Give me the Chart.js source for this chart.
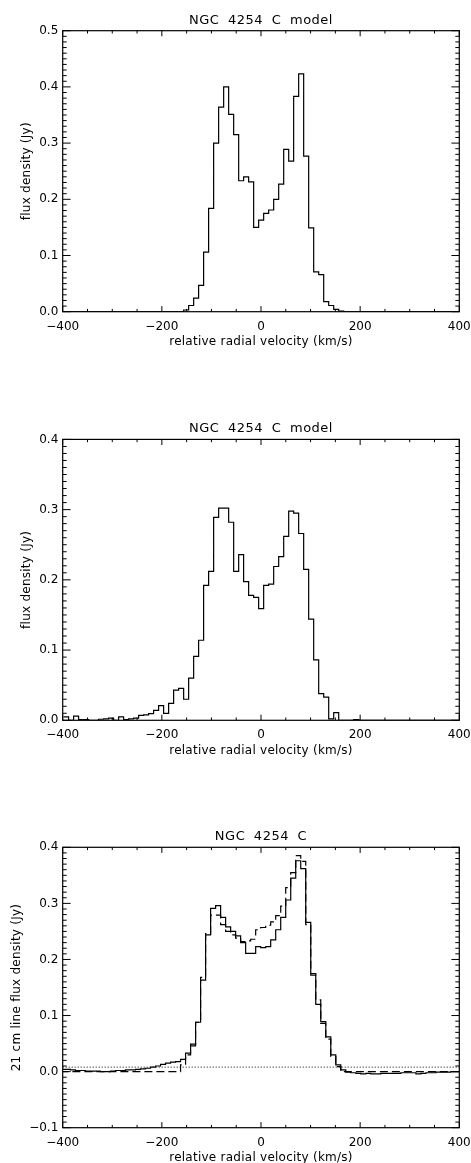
<!DOCTYPE html>
<html>
<head>
<meta charset="utf-8">
<script src="https://cdn.jsdelivr.net/npm/chart.js@4/dist/chart.umd.min.js"></script>
<style>
html,body{margin:0;padding:0;background:#fff;}
body{width:471px;height:1163px;position:relative;overflow:hidden;}
canvas{position:absolute;left:0;display:block;}
</style>
</head>
<body>
<canvas id="c1" width="471" height="352" style="top:0px"></canvas>
<canvas id="c2" width="471" height="360" style="top:400px"></canvas>
<canvas id="c3" width="471" height="363" style="top:800px"></canvas>
<script>
// ---------------- data ----------------
// bin centres (km/s) of the model spectra (panels 1 and 2)
const velModel = [
  -393.2,-383.1,-373.0,-362.9,-352.8,-342.7,-332.6,-322.6,-312.5,-302.4,
  -292.3,-282.2,-272.1,-262.0,-251.9,-241.8,-231.7,-221.7,-211.6,-201.5,
  -191.4,-181.3,-171.2,-161.1,-151.0,-140.9,-130.8,-120.8,-110.7,-100.6,
  -90.5,-80.4,-70.3,-60.2,-50.1,-40.0,-30.0,-19.9,-9.8,0.3,
  10.4,20.5,30.6,40.7,50.8,60.9,70.9,81.0,91.1,101.2,
  111.3,121.4,131.5,141.6,151.7,161.8,171.9,181.9,192.0,202.1,
  212.2,222.3,232.4,242.5,252.6,262.7,272.8,282.9,292.9,303.0,
  313.1,323.2,333.3,343.4,353.5,363.6,373.7,383.8,393.8
];
// panel 1: NGC 4254 C model (Jy)
const fluxModelA = [
  0,0,0,0,0,0,0,0,0,0,
  0,0,0,0,0,0,0,0,0,0,
  0,0,0,0,0.003,0.011,0.024,0.047,0.106,0.184,
  0.300,0.364,0.400,0.351,0.315,0.233,0.240,0.231,0.150,0.163,
  0.175,0.181,0.200,0.227,0.289,0.268,0.383,0.423,0.277,0.149,
  0.071,0.066,0.018,0.011,0.004,0.001,0,0,0,0,
  0,0,0,0,0,0,0,0,0,0,
  0,0,0,0,0,0,0,0,0
];
// panel 2: NGC 4254 C model (Jy)
const fluxModelB = [
  0.005,0.000,0.006,0.001,0.001,0.000,0.000,0.0015,0.002,0.003,
  0.000,0.005,0.001,0.002,0.003,0.007,0.0076,0.0095,0.014,0.021,
  0.010,0.024,0.043,0.0456,0.030,0.060,0.091,0.114,0.192,0.212,
  0.289,0.302,0.302,0.282,0.212,0.236,0.1975,0.178,0.175,0.159,
  0.192,0.194,0.219,0.233,0.262,0.298,0.295,0.266,0.215,0.144,
  0.086,0.038,0.033,0.002,0.011,0.000,0.000,0.000,0.001,0.000,
  0,0,0,0,0,0,0,0,0,0,
  0,0,0,0,0,0,0,0,0
];
// bin centres (km/s) of the observed spectrum (panel 3)
const velObs = [
  -399.6,-389.5,-379.4,-369.3,-359.2,-349.1,-339.0,-328.9,-318.8,-308.7,
  -298.6,-288.5,-278.4,-268.3,-258.2,-248.1,-238.0,-227.9,-217.8,-207.7,
  -197.6,-187.5,-177.4,-167.3,-157.2,-147.1,-137.0,-126.9,-116.8,-106.7,
  -96.6,-86.5,-76.4,-66.3,-56.2,-46.1,-36.0,-25.9,-15.8,-5.7,
  4.4,14.5,24.6,34.7,44.8,54.9,65.0,75.1,85.2,95.3,
  105.4,115.5,125.6,135.7,145.8,155.9,166.0,176.1,186.2,196.3,
  206.4,216.5,226.6,236.7,246.8,256.9,267.0,277.1,287.2,297.3,
  307.4,317.5,327.6,337.7,347.8,357.9,368.0,378.1,388.2,398.3
];
// panel 3 solid: observed 21 cm line flux density (Jy)
const fluxObs = [
  0.004,0.004,0.003,0.002,0.002,0.001,0.001,0.001,0.000,0.000,
  0.001,0.002,0.002,0.003,0.003,0.004,0.005,0.006,0.008,0.010,
  0.013,0.015,0.017,0.018,0.022,0.033,0.049,0.088,0.163,0.244,
  0.291,0.296,0.275,0.258,0.250,0.242,0.230,0.211,0.211,0.223,
  0.221,0.223,0.235,0.253,0.275,0.306,0.345,0.376,0.362,0.266,
  0.172,0.120,0.089,0.062,0.030,0.012,0.003,-0.001,-0.002,-0.003,
  -0.004,-0.003,-0.004,-0.004,-0.003,-0.003,-0.003,-0.003,-0.002,-0.002,
  -0.002,-0.004,-0.003,-0.002,-0.002,-0.001,-0.001,-0.001,0.000,0.000
];
// panel 3 dashed: model (Jy)
const fluxObsModel = [
  0,0,0,0,0,0,0,0,0,0,
  0,0,0,0,0,0,0,0,0,0,
  0,0,0,0,0.012,0.030,0.046,0.088,0.168,0.246,
  0.279,0.279,0.262,0.250,0.244,0.238,0.232,0.233,0.236,0.253,
  0.257,0.261,0.267,0.278,0.295,0.328,0.355,0.385,0.375,0.262,
  0.175,0.128,0.086,0.058,0.027,0.009,0,0,0,0,
  0,0,0,0,0,0,0,0,0,0,
  0,0,0,0,0,0,0,0,0,0
];
// panel 3 dotted level (Jy)
const noiseLevel = 0.008;

// ticks and texts
const xTickValues = [-400, -200, 0, 200, 400];
const yTicksA = [0, 0.1, 0.2, 0.3, 0.4, 0.5];
const yTicksB = [0, 0.1, 0.2, 0.3, 0.4];
const yTicksC = [-0.1, 0, 0.1, 0.2, 0.3, 0.4];
const xMinorStep = 50;
const yMinorStep = 0.01;
const panelTitles = ['NGC 4254 C model', 'NGC 4254 C model', 'NGC 4254 C'];
const xAxisTitle = 'relative radial velocity (km/s)';
const yAxisTitles = ['flux density (Jy)', 'flux density (Jy)', '21 cm line flux density (Jy)'];

// ---------------- helpers ----------------
const FONT = 'DejaVu Sans';
function histPoints(vel, flux) {
  const half = (vel[vel.length - 1] - vel[0]) / (vel.length - 1) / 2;
  const pts = vel.map((v, i) => ({x: v - half, y: flux[i]}));
  pts.push({x: vel[vel.length - 1] + half, y: flux[flux.length - 1]});
  return pts;
}
function minus(s) { return s.replace('-', '\u2212'); }
function fmtX(v) { return minus(String(Math.round(v))); }
function fmtY(v) { return Math.abs(v) < 1e-9 ? '0.0' : minus(v.toFixed(1)); }

const idlBox = {
  id: 'idlBox',
  afterDatasetsDraw(chart, _args, o) {
    const {ctx, chartArea: a} = chart;
    const xs = chart.scales.x, ys = chart.scales.y;
    ctx.save();
    ctx.strokeStyle = '#000';
    ctx.lineWidth = 1;
    ctx.beginPath();
    const nx = Math.round((xs.max - xs.min) / xMinorStep);
    for (let i = 0; i <= nx; i++) {
      const v = xs.min + i * xMinorStep;
      const px = xs.getPixelForValue(v);
      const major = xTickValues.some(m => Math.abs(m - v) < 1e-6);
      const len = major ? 5.6 : 2.8;
      ctx.moveTo(px, a.bottom); ctx.lineTo(px, a.bottom - len);
      ctx.moveTo(px, a.top); ctx.lineTo(px, a.top + len);
    }
    const ny = Math.round((ys.max - ys.min) / yMinorStep);
    for (let i = 0; i <= ny; i++) {
      const v = ys.min + i * yMinorStep;
      const py = ys.getPixelForValue(v);
      const major = o.yTicks.some(m => Math.abs(m - v) < 1e-6);
      const len = major ? 7.9 : 4;
      ctx.moveTo(a.left, py); ctx.lineTo(a.left + len, py);
      ctx.moveTo(a.right, py); ctx.lineTo(a.right - len, py);
    }
    ctx.stroke();
    ctx.lineWidth = 1.2;
    ctx.strokeRect(a.left, a.top, a.right - a.left, a.bottom - a.top);

    ctx.fillStyle = '#000';
    ctx.textAlign = 'center';
    ctx.textBaseline = 'alphabetic';
    ctx.font = '13px "' + FONT + '"';
    ctx.letterSpacing = '0.5px';
    ctx.wordSpacing = '4px';
    ctx.fillText(o.title, (a.left + a.right) / 2, a.top - 7);
    ctx.font = '12px "' + FONT + '"';
    ctx.letterSpacing = '0.25px';
    ctx.wordSpacing = '0px';
    ctx.fillText(xAxisTitle, (a.left + a.right) / 2, a.bottom + 33.5);
    ctx.translate(o.yTitleX, (a.top + a.bottom) / 2);
    ctx.rotate(-Math.PI / 2);
    ctx.fillText(o.yTitle, 0, 0);
    ctx.restore();
  }
};

function makePanel(id, cfg) {
  return new Chart(document.getElementById(id), {
    type: 'line',
    data: {datasets: cfg.datasets},
    options: {
      responsive: false,
      animation: false,
      events: [],
      layout: {padding: {left: 0, right: 11.7, top: cfg.padTop, bottom: 0}},
      elements: {point: {radius: 0}, line: {tension: 0}},
      plugins: {
        legend: {display: false},
        tooltip: {enabled: false},
        title: {display: false},
        idlBox: {title: cfg.title, yTitle: cfg.yTitle, yTitleX: cfg.yTitleX, yTicks: cfg.yTicks}
      },
      scales: {
        x: {
          type: 'linear', min: -400, max: 400,
          afterFit(s) { s.height = cfg.xH; s.paddingLeft = 0; s.paddingRight = 0; },
          afterBuildTicks(s) { s.ticks = xTickValues.map(v => ({value: v})); },
          grid: {display: false, drawTicks: false}, border: {display: false},
          ticks: {autoSkip: false, maxRotation: 0, padding: 7.5, color: '#000',
                  font: {family: FONT, size: 12}, callback: fmtX}
        },
        y: {
          type: 'linear', min: cfg.yMin, max: cfg.yMax,
          afterFit(s) { s.width = 62.7; s.paddingTop = 0; s.paddingBottom = 0; },
          afterBuildTicks(s) { s.ticks = cfg.yTicks.map(v => ({value: v})); },
          grid: {display: false, drawTicks: false}, border: {display: false},
          ticks: {autoSkip: false, padding: 4.4, color: '#000',
                  font: {family: FONT, size: 12}, callback: fmtY}
        }
      }
    },
    plugins: [idlBox]
  });
}

const solid = {borderColor: '#000', borderWidth: 1.2, stepped: 'before', fill: false};

makePanel('c1', {
  padTop: 30.7, xH: 40.3, yMin: 0, yMax: 0.5, yTicks: yTicksA,
  title: panelTitles[0], yTitle: yAxisTitles[0], yTitleX: 29.5,
  datasets: [Object.assign({data: histPoints(velModel, fluxModelA)}, solid)]
});
makePanel('c2', {
  padTop: 39.4, xH: 39.7, yMin: 0, yMax: 0.4, yTicks: yTicksB,
  title: panelTitles[1], yTitle: yAxisTitles[1], yTitleX: 29.5,
  datasets: [Object.assign({data: histPoints(velModel, fluxModelB)}, solid)]
});
makePanel('c3', {
  padTop: 47.3, xH: 35.3, yMin: -0.1, yMax: 0.4, yTicks: yTicksC,
  title: panelTitles[2], yTitle: yAxisTitles[2], yTitleX: 20,
  datasets: [
    Object.assign({data: histPoints(velObs, fluxObs)}, solid),
    Object.assign({data: histPoints(velObs, fluxObsModel), borderDash: [8, 4]}, solid),
    {data: [{x: -400, y: noiseLevel}, {x: 400, y: noiseLevel}], borderColor: '#000',
     borderWidth: 1, borderDash: [1, 2], fill: false}
  ]
});
</script>
</body>
</html>
